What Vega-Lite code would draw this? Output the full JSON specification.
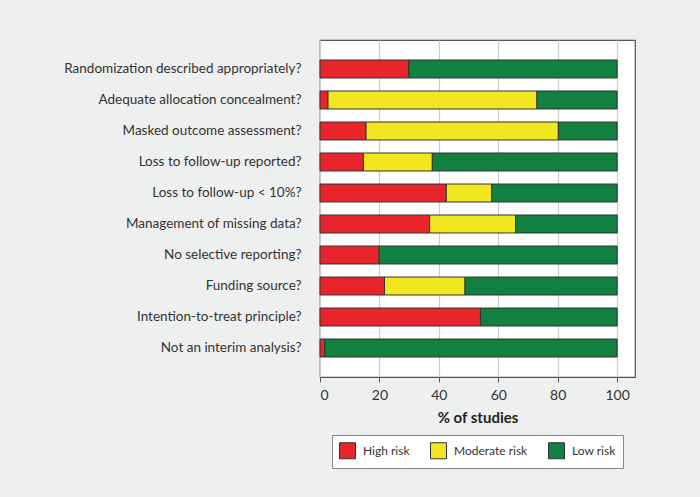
{
  "$schema": "https://vega.github.io/schema/vega-lite/v6.json",
  "autosize": {"type": "none"},
  "width": 315,
  "height": 337,
  "padding": {"left": 320, "top": 40, "right": 65, "bottom": 120},
  "background": "#eef0ef",
  "config": {
    "view": {"fill": "white", "stroke": "#555", "strokeWidth": 1.2},
    "font": "Lato",
    "axis": {"labelColor": "#333", "titleColor": "#222", "labelFont": "Lato", "titleFont": "Lato"},
    "legend": {"labelFont": "Lato"}
  },
  "data": {
    "values": [
      {"q": "Randomization described appropriately?", "risk": "High risk", "o": 1, "v": 29.9},
      {"q": "Randomization described appropriately?", "risk": "Low risk", "o": 3, "v": 70.1},
      {"q": "Adequate allocation concealment?", "risk": "High risk", "o": 1, "v": 2.7},
      {"q": "Adequate allocation concealment?", "risk": "Moderate risk", "o": 2, "v": 70.3},
      {"q": "Adequate allocation concealment?", "risk": "Low risk", "o": 3, "v": 27.0},
      {"q": "Masked outcome assessment?", "risk": "High risk", "o": 1, "v": 15.5},
      {"q": "Masked outcome assessment?", "risk": "Moderate risk", "o": 2, "v": 64.7},
      {"q": "Masked outcome assessment?", "risk": "Low risk", "o": 3, "v": 19.8},
      {"q": "Loss to follow-up reported?", "risk": "High risk", "o": 1, "v": 14.6},
      {"q": "Loss to follow-up reported?", "risk": "Moderate risk", "o": 2, "v": 23.2},
      {"q": "Loss to follow-up reported?", "risk": "Low risk", "o": 3, "v": 62.2},
      {"q": "Loss to follow-up < 10%?", "risk": "High risk", "o": 1, "v": 42.5},
      {"q": "Loss to follow-up < 10%?", "risk": "Moderate risk", "o": 2, "v": 15.3},
      {"q": "Loss to follow-up < 10%?", "risk": "Low risk", "o": 3, "v": 42.2},
      {"q": "Management of missing data?", "risk": "High risk", "o": 1, "v": 36.9},
      {"q": "Management of missing data?", "risk": "Moderate risk", "o": 2, "v": 28.9},
      {"q": "Management of missing data?", "risk": "Low risk", "o": 3, "v": 34.2},
      {"q": "No selective reporting?", "risk": "High risk", "o": 1, "v": 19.9},
      {"q": "No selective reporting?", "risk": "Low risk", "o": 3, "v": 80.1},
      {"q": "Funding source?", "risk": "High risk", "o": 1, "v": 21.7},
      {"q": "Funding source?", "risk": "Moderate risk", "o": 2, "v": 27.1},
      {"q": "Funding source?", "risk": "Low risk", "o": 3, "v": 51.2},
      {"q": "Intention-to-treat principle?", "risk": "High risk", "o": 1, "v": 54.0},
      {"q": "Intention-to-treat principle?", "risk": "Low risk", "o": 3, "v": 46.0},
      {"q": "Not an interim analysis?", "risk": "High risk", "o": 1, "v": 1.6},
      {"q": "Not an interim analysis?", "risk": "Low risk", "o": 3, "v": 98.4}
    ]
  },
  "mark": {"type": "bar", "stroke": "#333", "strokeWidth": 1},
  "encoding": {
    "y": {
      "field": "q", "type": "nominal", "sort": null,
      "scale": {"paddingInner": 0.42, "paddingOuter": 0.645},
      "axis": {"title": null, "ticks": false, "domain": false, "labelPadding": 19, "labelFontSize": 13.5, "labelLimit": 300}
    },
    "x": {
      "field": "v", "type": "quantitative", "stack": "zero",
      "scale": {"domain": [0, 106], "nice": false},
      "axis": {
        "title": "% of studies", "titleFontSize": 15, "titleFontWeight": "bold", "titlePadding": 8,
        "values": [0, 20, 40, 60, 80, 100], "domain": false,
        "tickSize": 5, "tickColor": "#555", "labelFontSize": 14, "labelPadding": 6,
        "grid": true, "gridColor": "#cccccc", "gridWidth": 1.2
      }
    },
    "color": {
      "field": "risk", "type": "nominal",
      "scale": {"domain": ["High risk", "Moderate risk", "Low risk"], "range": ["#e8252a", "#f2e71f", "#118040"]},
      "legend": {
        "title": null, "orient": "none", "direction": "horizontal",
        "legendX": 12, "legendY": 395,
        "symbolType": "square", "symbolSize": 256, "symbolStrokeColor": "#333", "symbolStrokeWidth": 1,
        "labelFontSize": 12, "labelColor": "#333", "labelOffset": 7, "columnPadding": 18,
        "padding": 7, "strokeColor": "#888", "fillColor": "white"
      }
    },
    "order": {"field": "o", "type": "quantitative"}
  }
}
